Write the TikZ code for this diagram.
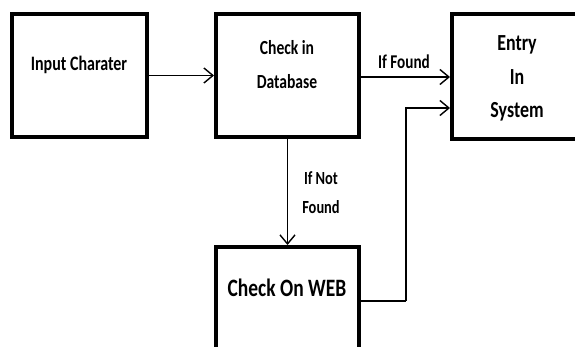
\documentclass[tikz,border=0pt]{standalone}
\usepackage{fontspec}
\setmainfont{Carlito}[FakeStretch=0.78]
\usetikzlibrary{arrows.meta}
\tikzset{
  box/.style={draw, line width=4pt, fill=white, inner sep=0pt},
  lbl/.style={font=\bfseries, inner sep=0pt, align=center},
  arr/.style={line width=1.4pt, -{Straight Barb[length=9pt, width=15pt, line width=1.4pt]}},
  link/.style={line width=1.6pt}
}
\begin{document}
\begin{tikzpicture}[x=1pt, y=-1pt]
  \useasboundingbox (0,0) rectangle (575,347);
  \clip (0,0) rectangle (575,347);
  \fill[white] (0,0) rectangle (575,347);

  % boxes
  \node[box, minimum width=135pt, minimum height=123pt] (b1) at (79.5,75.5) {};
  \node[box, minimum width=143pt, minimum height=123pt] (b2) at (287.5,75.5) {};
  \node[box, minimum width=130pt, minimum height=125pt] (b3) at (517,77) {};
  \node[box, minimum width=143pt, minimum height=108pt] (b4) at (287.5,301) {};

  % texts
  \node[lbl, font=\bfseries\fontsize{20.5}{24}\selectfont] at (79,65) {Input Charater};
  \node[lbl, font=\bfseries\fontsize{20}{34}\selectfont] at (287,65) {Check in\\Database};
  \node[lbl, font=\bfseries\fontsize{23}{33.5}\selectfont] at (517,78.5) {Entry\\In\\System};
  \node[lbl, font=\bfseries\fontsize{25}{30}\selectfont] at (287,288) {Check On WEB};
  \node[lbl, font=\bfseries\fontsize{19.5}{24}\selectfont] at (404,62) {If Found};
  \node[lbl, font=\bfseries\fontsize{18.5}{29}\selectfont] at (321,192.5) {If Not\\Found};

  % connectors
  \draw[arr] (b1.east) -- (b2.west);
  \draw[arr] (b2.east |- b3.west) -- (b3.west);
  \draw[arr] (b2.south) -- (b4.north);
  \coordinate (turn) at (406,301);
  \draw[link] (b4.east) -- (turn);
  \draw[arr] (turn) |- ([yshift=-31pt]b3.west);
\end{tikzpicture}
\end{document}
